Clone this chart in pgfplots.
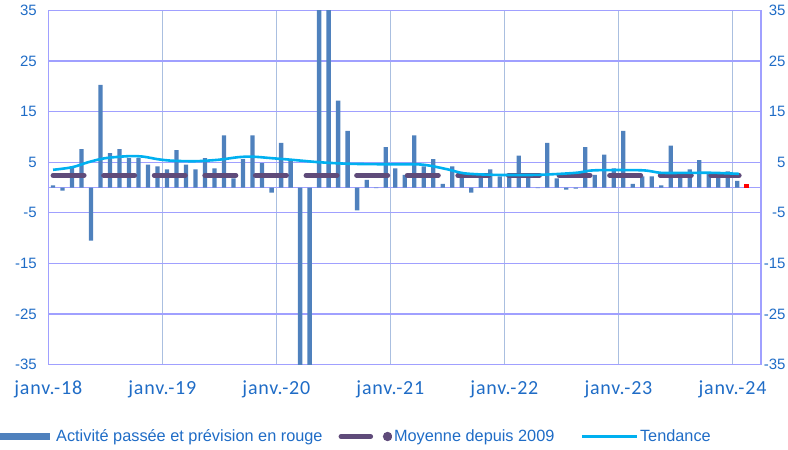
\documentclass[border=0pt]{standalone}
\usepackage{fontspec}
\setmainfont{Liberation Sans}
\newfontfamily\xfont{Carlito}[LetterSpace=4]
\usepackage{pgfplots}
\usepackage{pgfplotstable}
\pgfplotsset{compat=1.18}
\definecolor{barblue}{HTML}{4F81BD}
\definecolor{moyc}{HTML}{5F4B7A}
\definecolor{tendc}{HTML}{00B0F0}
\definecolor{gridp}{HTML}{A0A0FF}
\definecolor{gridv}{HTML}{AABFE0}
\definecolor{labc}{HTML}{1F6CC6}

\pgfplotstableread{
x y
0.5 0.4
1.5 -0.6
2.5 4.2
3.5 7.6
4.5 -10.5
5.5 20.3
6.5 6.8
7.5 7.6
8.5 5.8
9.5 5.8
10.5 4.5
11.5 4.2
12.5 3.6
13.5 7.4
14.5 4.5
15.5 3.6
16.5 5.8
17.5 3.8
18.5 10.3
19.5 1.8
20.5 5.6
21.5 10.3
22.5 4.8
23.5 -1.0
24.5 8.8
25.5 5.2
26.5 -38
27.5 -38
28.5 38
29.5 38
30.5 17.2
31.5 11.2
32.5 -4.5
33.5 1.5
34.5 -0.1
35.5 8.0
36.5 3.8
37.5 2.5
38.5 10.3
39.5 4.2
40.5 5.6
41.5 0.7
42.5 4.2
43.5 2.3
44.5 -1.0
45.5 2.0
46.5 3.6
47.5 2.2
48.5 2.0
49.5 6.3
50.5 2.2
51.5 -0.1
52.5 8.8
53.5 1.8
54.5 -0.4
55.5 -0.2
56.5 8.0
57.5 2.5
58.5 6.5
59.5 3.8
60.5 11.2
61.5 0.7
62.5 2.2
63.5 2.2
64.5 0.4
65.5 8.3
66.5 2.2
67.5 3.6
68.5 5.4
69.5 2.8
70.5 2.2
71.5 3.2
72.5 1.3
}\bars

\pgfplotstableread{
x y
73.5 0.7
}\forecast

\pgfplotstableread{
x y
0.5 3.5
2.5 4.0
4.2 5.0
6.0 5.8
8.5 6.2
10.0 6.1
11.5 5.6
13.0 5.3
15.5 5.2
18.0 5.5
20.0 6.0
21.5 6.1
23.5 5.8
25.5 5.5
28.5 5.0
31.5 4.7
35.0 4.6
37.0 4.6
39.5 4.5
42.0 3.6
43.8 2.8
47.0 2.5
51.5 2.5
55.5 2.9
57.5 3.4
62.5 3.4
64.5 2.9
67.5 2.9
70.0 2.9
72.7 2.7
}\trend

\pgfplotstableread{
x y
0.5 2.4
72.7 2.4
}\moyenne

\begin{document}
\begin{tikzpicture}
\begin{axis}[
  at={(48.3pt,85.5pt)}, anchor=south west,
  scale only axis, width=712.7pt, height=354pt,
  xmin=0, xmax=75, ymin=-35, ymax=35,
  ytick={-35,-25,-15,-5,5,15,25,35},
  xtick={0,12,24,36,48,60,72},
  xticklabels={janv.-18,janv.-19,janv.-20,janv.-21,janv.-22,janv.-23,janv.-24},
  xmajorgrids, ymajorgrids,
  x grid style={gridv, line width=1.4pt},
  y grid style={gridp, line width=1.4pt},
  axis line style={gridp, line width=1.4pt},
  major tick length=0pt,
  /pgf/number format/assume math mode=true,
  yticklabel style={font=\fontsize{15}{15}\selectfont, text=labc, xshift=-8pt},
  xticklabel style={font=\xfont\fontsize{20}{20}\selectfont, text=labc, yshift=-13pt},
  legend style={at={(axis description cs:-0.0678,-0.2034)}, anchor=west, draw=none, fill=none,
    font=\fontsize{16.3}{16.3}\selectfont, text=labc, inner sep=0pt,
    /tikz/every even column/.append style={column sep=14pt}},
  legend columns=3,
  legend cell align=left,
]
\draw[gridp, line width=1.4pt] (axis cs:0,0) -- (axis cs:75,0);
\addplot[ybar, bar width=0.45, bar shift=0pt, fill=barblue, draw=none,
  legend image code/.code={\fill[barblue] (0pt,-3.5pt) rectangle (50pt,3.5pt);}]
  table[x=x,y=y]{\bars};
\addlegendentry{\hspace{4pt}Activité passée et prévision en rouge}
\addplot[ybar, bar width=0.5, bar shift=0pt, fill=red, draw=none, forget plot]
  table[x=x,y=y]{\forecast};
\addplot[moyc, line width=5pt, line cap=round, dash pattern=on 31pt off 19.6pt,
  legend image code/.code={\draw[moyc, line width=5pt, line cap=round] (2.5pt,0pt)--(32pt,0pt); \fill[moyc] (49pt,0pt) circle (2pt);}]
  table[x=x,y=y]{\moyenne};
\addlegendentry{Moyenne depuis 2009\rule{10pt}{0pt}}
\addplot[tendc, line width=2.6pt, smooth,
  legend image code/.code={\draw[tendc, line width=2.6pt] (0pt,0pt)--(55pt,0pt);}]
  table[x=x,y=y]{\trend};
\addlegendentry{Tendance}
\end{axis}
\begin{axis}[
  at={(48.3pt,85.5pt)}, anchor=south west,
  scale only axis, width=712.7pt, height=354pt,
  xmin=0, xmax=75, ymin=-35, ymax=35,
  ytick={-35,-25,-15,-5,5,15,25,35},
  axis y line*=right, hide x axis,
  axis line style={gridp, line width=1.4pt},
  major tick length=0pt,
  /pgf/number format/assume math mode=true,
  yticklabel style={font=\fontsize{15}{15}\selectfont, text=labc, anchor=east, xshift=28pt},
]
\addplot[draw=none, forget plot] coordinates {(0,0)};
\end{axis}
\pgfresetboundingbox
\useasboundingbox (0pt,0pt) rectangle (788pt,450pt);
\end{tikzpicture}
\end{document}
